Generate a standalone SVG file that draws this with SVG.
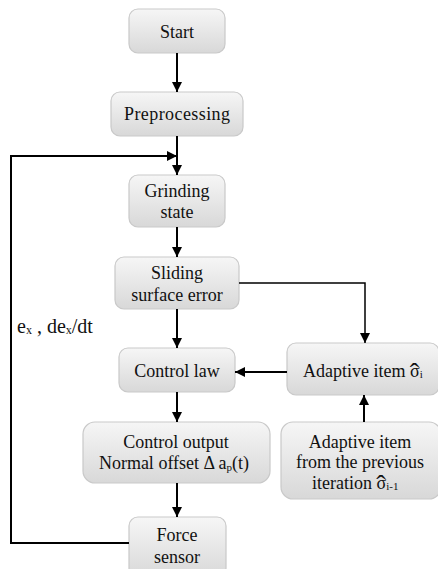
<svg xmlns="http://www.w3.org/2000/svg" width="438" height="569" viewBox="0 0 438 569">
<defs>
<linearGradient id="g" x1="0" y1="0" x2="0" y2="1">
<stop offset="0" stop-color="#f6f6f6"/>
<stop offset="1" stop-color="#d8d8d8"/>
</linearGradient>
<marker id="ah" viewBox="0 0 10 10" refX="10" refY="5" markerWidth="10" markerHeight="10" markerUnits="userSpaceOnUse" orient="auto">
<path d="M0,0 L10,5 L0,10 Z" fill="#000"/>
</marker>
</defs>
<style>
.box{fill:url(#g);stroke:#c9c9c9;stroke-width:1.2}
text{font-family:'Liberation Serif','Times New Roman',serif;font-size:18px;fill:#111;text-anchor:middle}
.l{text-anchor:start}
.s{font-size:11px}
.h{font-size:28px}
.c{fill:none;stroke:#000;stroke-width:2}
.c1{fill:none;stroke:#000;stroke-width:1.5}
</style>
<rect width="438" height="569" fill="#fff"/>
<g id="start"><rect class="box" x="129" y="9" width="96" height="44" rx="9"/><text x="177" y="38">Start</text></g>
<g id="preprocessing"><rect class="box" x="111" y="92" width="132" height="44" rx="9"/><text x="177" y="120" textLength="106">Preprocessing</text></g>
<g id="grinding"><rect class="box" x="129" y="175" width="96" height="52" rx="9"/><text x="177" y="197">Grinding</text><text x="177" y="218">state</text></g>
<g id="sliding"><rect class="box" x="115" y="257" width="124" height="52" rx="9"/><text x="177" y="279">Sliding</text><text x="177" y="301">surface error</text></g>
<g id="controllaw"><rect class="box" x="119" y="348" width="116" height="44" rx="9"/><text x="177" y="377">Control law</text></g>
<g id="adaptive"><rect class="box" x="287" y="343" width="152" height="52" rx="9"/><text class="l" x="303" y="377">Adaptive item σ<tspan class="h" dx="-10" dy="5">ˆ</tspan><tspan class="s" dx="0.7" dy="-4">i</tspan></text></g>
<g id="controloutput"><rect class="box" x="83" y="422" width="187" height="61" rx="12"/><text x="176" y="448">Control output</text><text x="174" y="469">Normal offset Δ a<tspan class="s" dy="2">p</tspan><tspan dy="-2">(t)</tspan></text></g>
<g id="previous"><rect class="box" x="281" y="422" width="160" height="77" rx="12"/><text x="360" y="448">Adaptive item</text><text x="360" y="468">from the previous</text><text class="l" x="312" y="489">iteration σ<tspan class="h" dx="-10" dy="5">ˆ</tspan><tspan class="s" dx="0.7" dy="-4">i-1</tspan></text></g>
<g id="force"><rect class="box" x="129" y="517" width="97" height="60" rx="9"/><text x="177" y="541">Force</text><text x="177" y="563">sensor</text></g>
<g id="label"><text class="l" x="17" y="333" style="font-size:20px">e<tspan class="s" style="font-size:12px" dy="1">x</tspan><tspan dy="-1"> ,  de</tspan><tspan class="s" style="font-size:12px" dy="1">x</tspan><tspan dy="-1">/dt</tspan></text></g>
<g id="connectors">
<path class="c" d="M177,53 V92" marker-end="url(#ah)"/>
<path class="c" d="M177,136 V175" marker-end="url(#ah)"/>
<path class="c" d="M177,227 V257" marker-end="url(#ah)"/>
<path class="c" d="M177,309 V348" marker-end="url(#ah)"/>
<path class="c" d="M177,392 V422" marker-end="url(#ah)"/>
<path class="c" d="M177,483 V517" marker-end="url(#ah)"/>
<path class="c1" d="M239,283 H365 V343" marker-end="url(#ah)"/>
<path class="c" d="M287,372 H235" marker-end="url(#ah)"/>
<path class="c" d="M364,422 V395" marker-end="url(#ah)"/>
<path class="c" d="M129,543 H11 V156 H177" marker-end="url(#ah)"/>
</g>
</svg>
